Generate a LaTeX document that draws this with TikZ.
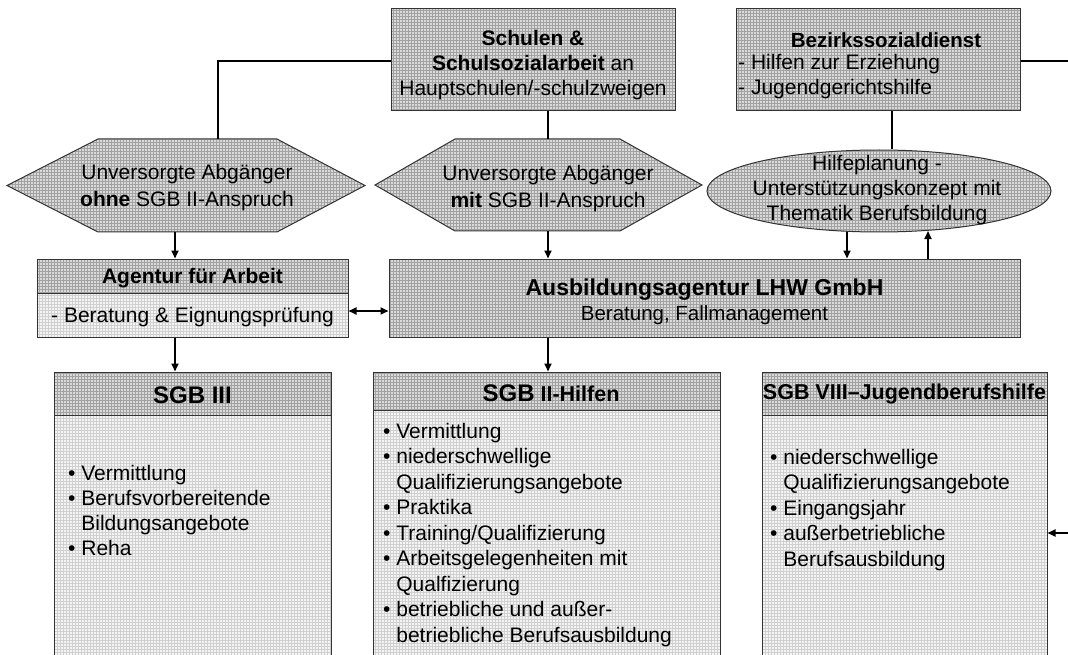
\documentclass[tikz,border=0pt]{standalone}
\usepackage{fontspec}
\setmainfont{Liberation Sans}
\usetikzlibrary{arrows.meta,patterns,shapes.geometric,calc}
\definecolor{dkbase}{HTML}{DADADA}
\definecolor{dkline}{HTML}{A2A2A2}
\definecolor{ltbase}{HTML}{F4F4F4}
\definecolor{ltline}{HTML}{D0D0D0}
\definecolor{bord}{HTML}{333333}
\begin{document}
\begin{tikzpicture}[x=1pt,y=-1pt,
  dk/.style={preaction={fill=dkbase},pattern=grid,pattern color=dkline},
  lt/.style={preaction={fill=ltbase},pattern=grid,pattern color=ltline},
  bx/.style={draw=bord,line width=1pt,inner sep=0pt},
  txt/.style={inner sep=0pt,align=center,font=\fontsize{21}{25}\selectfont},
  lst/.style={inner sep=0pt,align=left,anchor=west,font=\fontsize{21}{25}\selectfont},
  conn/.style={line width=1.8pt,draw=black},
  arr/.style={conn,-{Triangle[length=8pt,width=7pt]}},
  darr/.style={conn,{Triangle[length=8pt,width=7pt]}-{Triangle[length=8pt,width=7pt]}},
]
\useasboundingbox (0,0) rectangle (1068,655);
\clip (0,0) rectangle (1068,655);

% top boxes
\node[bx,dk,minimum width=284pt,minimum height=102pt] (schul) at (533,60) {};
\node[bx,dk,minimum width=284pt,minimum height=102pt] (bez) at (878,60) {};

% hexagons
\path[bx,dk] (7,185.5) -- (98,139) -- (277,139) -- (365,185.5) -- (277,232) -- (98,232) -- cycle;
\path[bx,dk] (375,185) -- (455,139) -- (620,139) -- (702,185) -- (620,231) -- (455,231) -- cycle;
\coordinate (h1n) at (218,139);
\coordinate (h1s) at (175,232);
\coordinate (h2n) at (548,139);
\coordinate (h2s) at (548,231);

% ellipse
\node[bx,dk,ellipse,minimum width=344pt,minimum height=82pt] (ell) at (879,191) {};

% middle boxes
\node[bx,lt,minimum width=311pt,minimum height=44pt] (agb) at (192.5,315) {};
\node[bx,dk,minimum width=311pt,minimum height=34pt] (agh) at (192.5,276) {};
\node[bx,dk,minimum width=631pt,minimum height=78pt] (ausb) at (704.5,298) {};

% bottom boxes
\node[bx,lt,minimum width=277pt,minimum height=255pt] (s3b) at (192.5,542.5) {};
\node[bx,dk,minimum width=277pt,minimum height=43pt] (s3h) at (192.5,393.5) {};
\node[bx,lt,minimum width=347pt,minimum height=260pt] (s2b) at (546.5,540) {};
\node[bx,dk,minimum width=347pt,minimum height=38pt] (s2h) at (546.5,391) {};
\node[bx,lt,minimum width=285pt,minimum height=255pt] (s8b) at (904.5,542.5) {};
\node[bx,dk,minimum width=285pt,minimum height=43pt] (s8h) at (904.5,393.5) {};

% texts
\node[txt] (schult) at (533,65) {\textbf{Schulen \&}\\\textbf{Schulsozialarbeit} an\\Hauptschulen/-schulzweigen};
\node[txt,font=\fontsize{20.5}{25}\selectfont\bfseries] (bezt) at (886,40) {Bezirkssozialdienst};
\node[lst] (bezl) at (738,77) {- Hilfen zur Erziehung\\- Jugendgerichtshilfe};
\node[txt,font=\fontsize{21}{27}\selectfont] (h1t) at (187,188) {Unversorgte Abgänger\\\textbf{ohne} SGB II-Anspruch};
\node[txt,font=\fontsize{21}{27}\selectfont] (h2t) at (548,189) {Unversorgte Abgänger\\\textbf{mit} SGB II-Anspruch};
\node[txt] (ellt) at (877,190) {Hilfeplanung -\\Unterstützungskonzept mit\\Thematik Berufsbildung};
\node[txt,font=\fontsize{21}{25}\selectfont\bfseries] (aght) at (192.5,278) {Agentur für Arbeit};
\node[txt] (agbt) at (192.5,317) {- Beratung \& Eignungsprüfung};
\node[txt,font=\fontsize{23}{27}\selectfont\bfseries] (ausbt) at (704.5,290) {Ausbildungsagentur LHW GmbH};
\node[txt,font=\fontsize{20.5}{25}\selectfont] (ausbs) at (704.5,315) {Beratung, Fallmanagement};
\node[txt,font=\fontsize{24}{28}\selectfont\bfseries] (s3ht) at (192.5,395) {SGB III};
\node[txt,font=\fontsize{21.5}{26}\selectfont\bfseries] (s2ht) at (551,393) {{\fontsize{24}{28}\selectfont SGB} II-Hilfen};
\node[txt,font=\fontsize{21.5}{26}\selectfont\bfseries] (s8ht) at (904.5,394) {SGB VIII–Jugendberufshilfe};

\node[lst] (s3l) at (68,510) {• Vermittlung\\• Berufsvorbereitende\\\hphantom{• }Bildungsangebote\\• Reha};
\node[lst,font=\fontsize{21}{25.5}\selectfont] (s2l) at (383,535) {• Vermittlung\\• niederschwellige\\\hphantom{• }Qualifizierungsangebote\\• Praktika\\• Training/Qualifizierung\\• Arbeitsgelegenheiten mit\\\hphantom{• }Qualfizierung\\• betriebliche und außer-\\\hphantom{• }betriebliche Berufsausbildung};
\node[lst,font=\fontsize{21}{25.5}\selectfont] (s8l) at (770,510) {• niederschwellige\\\hphantom{• }Qualifizierungsangebote\\• Eingangsjahr\\• außerbetriebliche\\\hphantom{• }Berufsausbildung};

% connectors
\coordinate (bezout) at (1085,61);
\coordinate (rin) at (1085,533);
\draw[conn] ([yshift=-1pt]schul.west) -| (h1n);
\draw[conn] (schul.south -| h2n) -- (h2n);
\draw[conn] ([yshift=-1pt]bez.east) -- (bezout);
\draw[conn] ([xshift=14pt]bez.south) -- ([xshift=14pt]bez.south |- ell.north);
\draw[arr] (h1s) -- (h1s |- agh.north);
\draw[arr] (h2s) -- (h2s |- ausb.north);
\draw[arr] ([xshift=-32pt]ell.south) -- ([xshift=-32pt]ell.south |- ausb.north);
\draw[arr] ([xshift=49pt]ell.south |- ausb.north) -- ([xshift=49pt,yshift=1.5pt]ell.south);
\draw[darr] ([yshift=4pt]agb.east) -- ([yshift=4pt]agb.east -| ausb.west);
\draw[arr] (h1s |- agb.south) -- (h1s |- s3h.north);
\draw[arr] (h2s |- ausb.south) -- (h2s |- s2h.north);
\draw[arr] (rin) -- (rin -| s8b.east);
\end{tikzpicture}
\end{document}
